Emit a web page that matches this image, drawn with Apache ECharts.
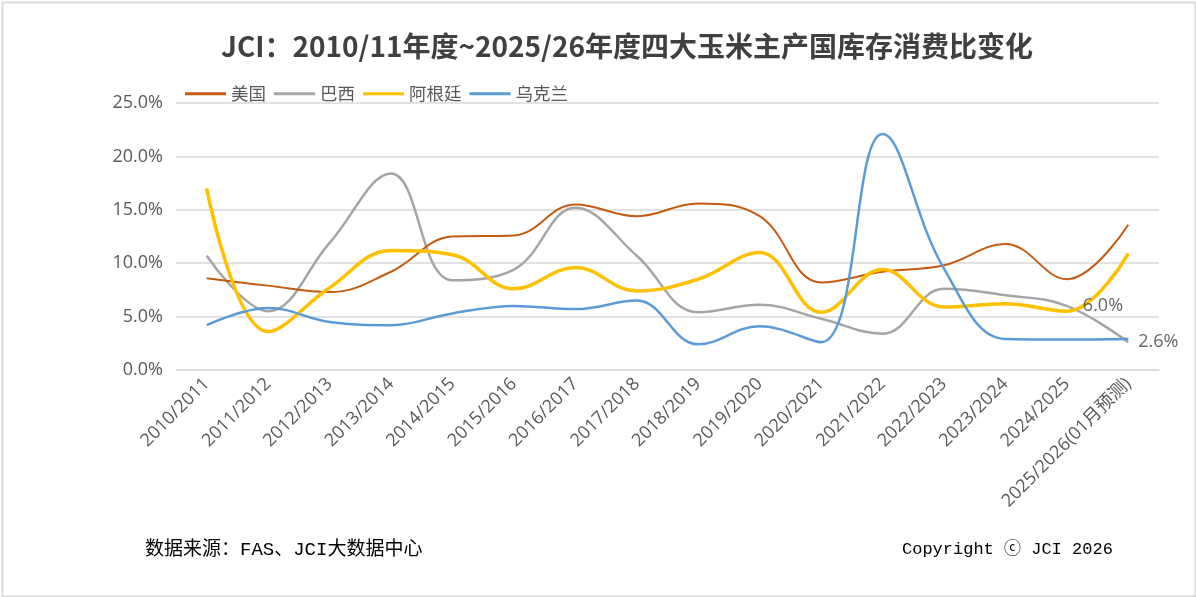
<!DOCTYPE html>
<html><head><meta charset="utf-8">
<script src="https://cdn.jsdelivr.net/npm/echarts@6/dist/echarts.min.js"></script>
<style>html,body{margin:0;padding:0;background:#fff}#c{width:1196px;height:597px}</style>
</head><body><div id="c"></div>
<script>
const categories = ['2010/2011','2011/2012','2012/2013','2013/2014','2014/2015','2015/2016','2016/2017','2017/2018','2018/2019','2019/2020','2020/2021','2021/2022','2022/2023','2023/2024','2024/2025','2025/2026(01月预测)'];
const usa       = [8.6, 7.9, 7.3, 9.2, 12.5, 12.6, 15.5, 14.4, 15.6, 14.4, 8.2, 9.2, 9.8, 11.8, 8.5, 13.6];
const brazil    = [10.7, 5.5, 11.9, 18.4, 8.4, 9.4, 15.2, 10.7, 5.4, 6.1, 4.8, 3.4, 7.6, 7.0, 6.0, 2.6];
const argentina = [17.0, 3.6, 7.7, 11.2, 10.8, 7.6, 9.6, 7.4, 8.5, 11.0, 5.4, 9.4, 5.9, 6.2, 5.5, 10.9];
const ukraine   = [4.2, 5.8, 4.5, 4.2, 5.3, 6.0, 5.7, 6.5, 2.4, 4.1, 2.6, 22.1, 9.5, 2.9, 2.85, 2.9];
const yTicks = [0, 5, 10, 15, 20, 25];
const seriesNames = ['美国', '巴西', '阿根廷', '乌克兰'];
const labelledIdx = [14, 15];

const chart = echarts.init(document.getElementById('c'), null, {renderer: 'canvas'});
const fmt = v => v.toFixed(1) + '%';
const labelData = brazil.map((v, i) => labelledIdx.includes(i) ? {
  value: [i, v],
  label: {distance: i === 14 ? 16 : 10}
} : null).filter(d => d);

chart.setOption({
  backgroundColor: '#fff',
  animation: false,
  title: {
    text: 'JCI：2010/11年度~2025/26年度四大玉米主产国库存消费比变化',
    left: 216, top: 27,
    textStyle: {fontSize: 28, fontWeight: 'bold', color: '#404040', fontFamily: 'Noto Sans CJK SC'}
  },
  legend: {
    left: 180, top: 80, itemWidth: 41, itemHeight: 3, itemGap: 8,
    icon: 'rect',
    textStyle: {fontSize: 17.5, color: '#595959', fontFamily: 'Noto Sans CJK SC'},
    data: seriesNames
  },
  grid: {left: 176, right: 37, top: 103, bottom: 227},
  xAxis: {
    type: 'category', data: categories, boundaryGap: true,
    axisLine: {show: true, lineStyle: {color: '#d9d9d9', width: 1.5}},
    axisTick: {show: false},
    axisLabel: {rotate: 45, fontSize: 18, color: '#595959', margin: 11, interval: 0,
      fontFamily: 'Open Sans, Noto Sans CJK SC'}
  },
  yAxis: {
    type: 'value', min: yTicks[0], max: yTicks[yTicks.length - 1], interval: 5,
    axisLine: {show: false}, axisTick: {show: false},
    splitLine: {lineStyle: {color: '#d9d9d9', width: 1.5}},
    axisLabel: {formatter: v => v.toFixed(1) + '%', fontSize: 18, color: '#595959', margin: 13,
      fontFamily: 'Open Sans, Noto Sans CJK SC'}
  },
  series: [
    {name: seriesNames[0], type: 'line', data: usa, smooth: 0.4, symbol: 'none',
      lineStyle: {color: '#C55A11', width: 2}, itemStyle: {color: '#C55A11'}, z: 3},
    {name: seriesNames[1], type: 'line', data: brazil, smooth: 0.4, symbol: 'none',
      lineStyle: {color: '#A5A5A5', width: 2.5}, itemStyle: {color: '#A5A5A5'}, z: 2},
    {name: seriesNames[2], type: 'line', data: argentina, smooth: 0.4, symbol: 'none',
      lineStyle: {color: '#FFC000', width: 3.5}, itemStyle: {color: '#FFC000'}, z: 4},
    {name: seriesNames[3], type: 'line', data: ukraine, smooth: 0.4, symbol: 'none',
      lineStyle: {color: '#5B9BD5', width: 2.5}, itemStyle: {color: '#5B9BD5'}, z: 5},
    {name: 'labels', type: 'scatter', data: labelData, symbolSize: 0.01, z: 10, silent: true,
      itemStyle: {color: '#A5A5A5'},
      label: {show: true, position: 'right', formatter: p => fmt(p.value[1]),
        fontSize: 18, color: '#404040', fontFamily: 'Open Sans, Noto Sans CJK SC'}}
  ],
  graphic: [
    {type: 'rect', left: 0, top: 0, z: -1, silent: true,
      shape: {x: 1, y: 1, width: 1193, height: 594},
      style: {fill: 'none', stroke: '#d9d9d9', lineWidth: 2}},
    {type: 'text', left: 145, top: 540,
      style: {text: '数据来源：FAS、JCI大数据中心', fontSize: 19, fill: '#000',
        fontFamily: 'Liberation Mono, Noto Sans CJK SC'}},
    {type: 'text', left: 902, top: 541,
      style: {text: 'Copyright ⓒ JCI 2026', fontSize: 17, fill: '#000',
        fontFamily: 'Liberation Mono, Noto Sans CJK SC'}}
  ]
});
</script></body></html>
